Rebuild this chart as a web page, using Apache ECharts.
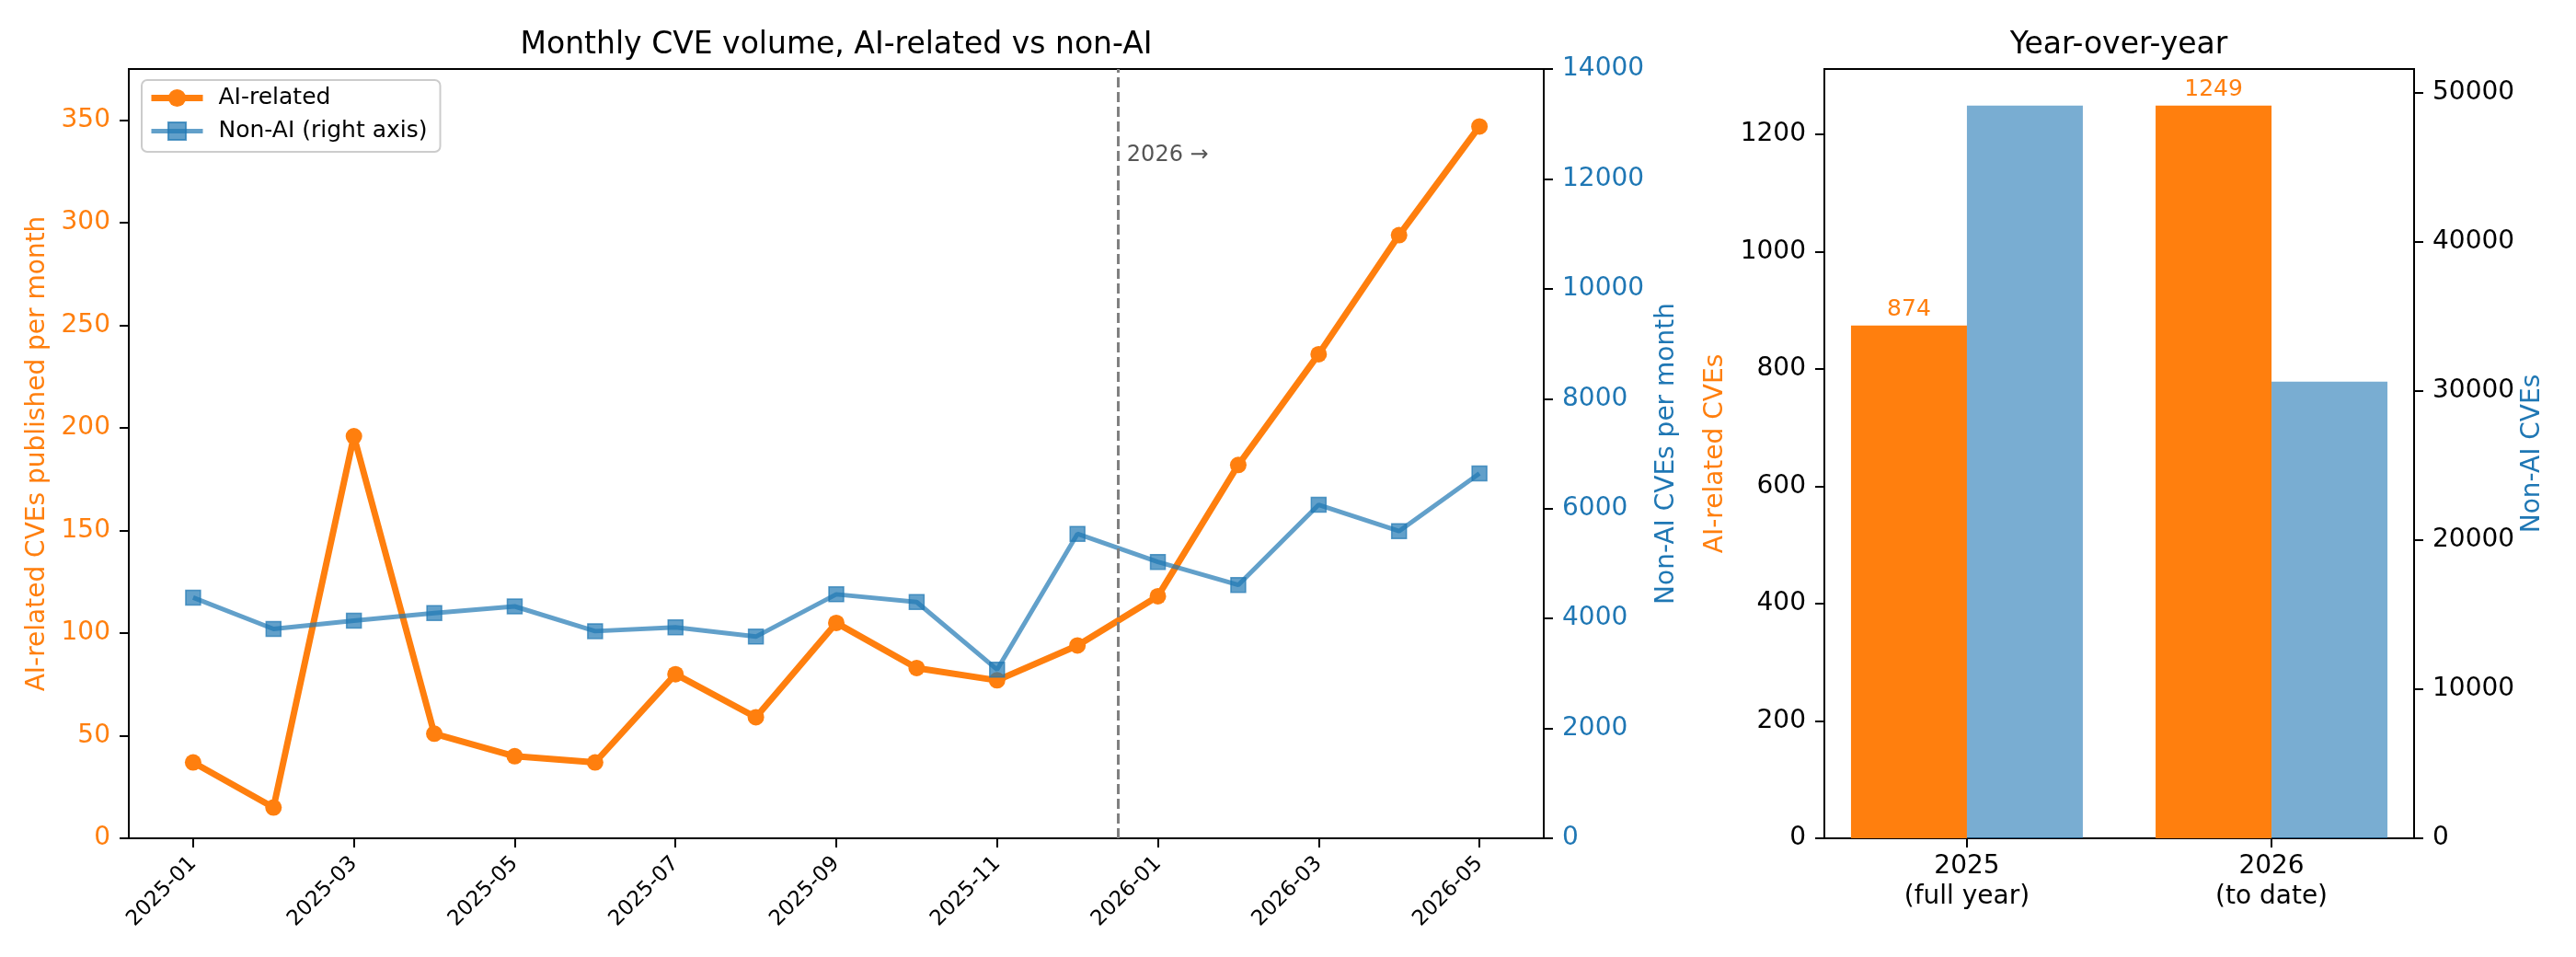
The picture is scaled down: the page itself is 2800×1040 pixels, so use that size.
<!DOCTYPE html>
<html><head><meta charset="utf-8">
<script src="https://cdn.jsdelivr.net/npm/echarts@6/dist/echarts.min.js"></script>
<style>html,body{margin:0;padding:0;background:#fff}#c{width:2800px;height:1040px}</style>
</head><body><div id="c"></div>
<script>
// ---- data ----
const MONTHS = ['2025-01','2025-02','2025-03','2025-04','2025-05','2025-06','2025-07','2025-08','2025-09','2025-10','2025-11','2025-12','2026-01','2026-02','2026-03','2026-04','2026-05'];
const AI_MONTHLY = [37,15,196,51,40,37,80,59,105,83,77,94,118,182,236,294,347];
const NONAI_MONTHLY = [4380,3810,3960,4100,4220,3770,3840,3670,4440,4300,3070,5540,5030,4610,6070,5590,6640];
const MONTH_TICK_IDX = [0,2,4,6,8,10,12,14,16];
const AI_TICKS = [0,50,100,150,200,250,300,350];
const NONAI_TICKS = [0,2000,4000,6000,8000,10000,12000,14000];
const YEAR_CATS = ['2025\n(full year)','2026\n(to date)'];
const AI_YEARLY = [874,1249];
const NONAI_YEARLY = [49150,30640];
const AI_YEAR_TICKS = [0,200,400,600,800,1000,1200];
const NONAI_YEAR_TICKS = [0,10000,20000,30000,40000,50000];

// ---- styling ----
const ORANGE = '#ff7f0e';
const BLUE = '#1f77b4';
const FONT = 'DejaVu Sans';
const divider = MONTHS.indexOf('2026-01') - 0.5;

const chart = echarts.init(document.getElementById('c'), null, {renderer: 'canvas'});

function yAxisBase(gridIndex, pos, ticks, max, labelColor, name, nameColor, nameGap) {
  return {
    type: 'value', gridIndex: gridIndex, position: pos, min: 0, max: max,
    name: name, nameLocation: 'middle', nameRotate: 90, nameGap: nameGap,
    nameTextStyle: {color: nameColor, fontSize: 28, fontFamily: FONT},
    axisLine: {show: true, onZero: false, lineStyle: {color: '#000', width: 2}},
    axisTick: {show: true, inside: false, length: 10, lineStyle: {color: '#000', width: 2}, customValues: ticks},
    axisLabel: {color: labelColor, fontSize: 28, fontFamily: FONT, margin: 20, customValues: ticks,
                formatter: v => String(Math.round(v))},
    splitLine: {show: false}
  };
}

const option = {
  animation: false,
  backgroundColor: '#ffffff',
  textStyle: {fontFamily: FONT},
  title: [
    {text: 'Monthly CVE volume, AI-related vs non-AI', left: 909, top: 33, textAlign: 'center', padding: 0,
     textStyle: {fontSize: 33, fontWeight: 'normal', color: '#000', fontFamily: FONT}},
    {text: 'Year-over-year', left: 2303, top: 33, textAlign: 'center', padding: 0,
     textStyle: {fontSize: 33, fontWeight: 'normal', color: '#000', fontFamily: FONT}}
  ],
  legend: {
    data: [
      {name: 'AI-related', lineStyle: {width: 7, color: ORANGE}},
      {name: 'Non-AI (right axis)', lineStyle: {width: 5, color: 'rgba(31,119,180,0.7)'}}
    ],
    orient: 'vertical', left: 154, top: 87,
    itemWidth: 56, itemHeight: 24, itemGap: 11,
    padding: [7, 14, 10, 7],
    backgroundColor: 'rgba(255,255,255,0.8)',
    borderColor: '#cccccc', borderWidth: 2, borderRadius: 6,
    textStyle: {fontSize: 25, color: '#000', fontFamily: FONT, padding: [0, 0, 0, 12]}
  },
  grid: [
    {left: 140, top: 75, width: 1538, height: 836, show: true, borderColor: '#000', borderWidth: 2, backgroundColor: 'transparent', containLabel: false},
    {left: 1983, top: 75, width: 641, height: 836, show: true, borderColor: '#000', borderWidth: 2, backgroundColor: 'transparent', containLabel: false}
  ],
  xAxis: [
    {
      type: 'value', gridIndex: 0, min: -0.8, max: 16.8,
      axisLine: {show: true, onZero: false, lineStyle: {color: '#000', width: 2}},
      axisTick: {show: true, length: 10, lineStyle: {color: '#000', width: 2}, customValues: MONTH_TICK_IDX},
      axisLabel: {rotate: 45, fontSize: 23, color: '#000', fontFamily: FONT, margin: 24,
                  customValues: MONTH_TICK_IDX, formatter: v => MONTHS[Math.round(v)]},
      splitLine: {show: false}
    },
    {
      type: 'value', gridIndex: 1, min: -0.468, max: 1.468,
      axisLine: {show: true, onZero: false, lineStyle: {color: '#000', width: 2}},
      axisTick: {show: true, length: 10, lineStyle: {color: '#000', width: 2}, customValues: [0, 1]},
      axisLabel: {fontSize: 28, color: '#000', fontFamily: FONT, margin: 14, lineHeight: 33,
                  customValues: [0, 1], formatter: v => YEAR_CATS[Math.round(v)]},
      splitLine: {show: false}
    }
  ],
  yAxis: [
    yAxisBase(0, 'left', AI_TICKS, 375, ORANGE, 'AI-related CVEs published per month', ORANGE, 85),
    yAxisBase(0, 'right', NONAI_TICKS, 14000, BLUE, 'Non-AI CVEs per month', BLUE, 115),
    yAxisBase(1, 'left', AI_YEAR_TICKS, Math.max(...AI_YEARLY) * 1.05, '#000', 'AI-related CVEs', ORANGE, 104),
    yAxisBase(1, 'right', NONAI_YEAR_TICKS, Math.max(...NONAI_YEARLY) * 1.05, '#000', 'Non-AI CVEs', BLUE, 115)
  ],
  series: [
    {
      name: 'AI-related', type: 'line', xAxisIndex: 0, yAxisIndex: 0, z: 3,
      data: AI_MONTHLY.map((v, i) => [i, v]),
      symbol: 'circle', symbolSize: 18,
      lineStyle: {color: ORANGE, width: 7},
      itemStyle: {color: ORANGE},
      markLine: {
        silent: true, symbol: 'none',
        lineStyle: {color: '#808080', type: [11, 5], width: 3},
        label: {show: false},
        data: [{xAxis: divider}]
      },
      markPoint: {
        silent: true, symbol: 'circle', symbolSize: 0,
        label: {show: true, position: 'right', distance: 10, formatter: '2026 \u2192',
                color: '#555555', fontSize: 24, fontFamily: FONT},
        data: [{coord: [divider, 333]}]
      }
    },
    {
      name: 'Non-AI (right axis)', type: 'line', xAxisIndex: 0, yAxisIndex: 1, z: 4,
      data: NONAI_MONTHLY.map((v, i) => [i, v]),
      symbol: 'rect', symbolSize: 16,
      lineStyle: {color: 'rgba(31,119,180,0.7)', width: 5},
      itemStyle: {color: 'rgba(31,119,180,0.7)', borderColor: 'rgba(31,119,180,0.7)', borderWidth: 1.5, opacity: 1}
    },
    {
      name: 'AI yearly', type: 'bar', xAxisIndex: 1, yAxisIndex: 2,
      data: AI_YEARLY.map((v, i) => [i, v]),
      barWidth: 126, barGap: '0%',
      itemStyle: {color: ORANGE},
      label: {show: true, position: 'top', distance: 5, color: ORANGE, fontSize: 25, fontFamily: FONT}
    },
    {
      name: 'Non-AI yearly', type: 'bar', xAxisIndex: 1, yAxisIndex: 3,
      data: NONAI_YEARLY.map((v, i) => [i, v]),
      barWidth: 126, barGap: '0%',
      itemStyle: {color: 'rgba(31,119,180,0.6)'}
    }
  ]
};
chart.setOption(option);
</script>
</body></html>
